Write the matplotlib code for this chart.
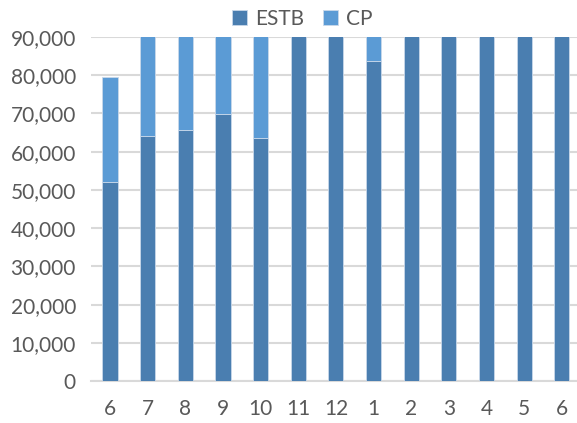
import numpy as np
import matplotlib.pyplot as plt

months = ["6", "7", "8", "9", "10", "11", "12", "1", "2", "3", "4", "5", "6"]
estb = [52100, 64000, 65600, 69900, 63600, 95000, 95000, 83600, 95000, 95000, 95000, 95000, 95000]
cp = [27400, 36000, 34400, 30100, 36400, 0, 0, 11400, 0, 0, 0, 0, 0]

c_estb = "#4A7EB0"
c_cp = "#5B9BD5"
txt = "#595959"

plt.rcParams['font.family'] = ['Lato', 'DejaVu Sans']

fig = plt.figure(figsize=(5.77, 4.23), dpi=100)
ax = fig.add_axes([0.158, 0.099, 0.842, 0.8135])

x = np.arange(len(months))
ax.bar(x, estb, width=0.4, color=c_estb, edgecolor="#C9D8EA", linewidth=0.6, label="ESTB", zorder=3)
ax.bar(x, cp, width=0.4, bottom=estb, color=c_cp, edgecolor="#C9D8EA", linewidth=0.6, label="CP", zorder=3)

ax.set_ylim(0, 90000)
ax.set_xlim(-0.5, 12.4)
ax.set_yticks(np.arange(0, 90001, 10000))
ax.set_yticklabels([f"{v:,}" for v in range(0, 90001, 10000)])
ax.set_xticks(x)
ax.set_xticklabels(months)
ax.yaxis.grid(True, color="#D9D9D9", linewidth=1.5, zorder=0)
ax.set_axisbelow(True)
for s in ["top", "right", "left"]:
    ax.spines[s].set_visible(False)
ax.spines["bottom"].set_color("#D9D9D9")
ax.spines["bottom"].set_linewidth(1.5)
ax.tick_params(axis="both", length=0, labelsize=15, colors=txt)
ax.tick_params(axis="x", pad=13)
ax.tick_params(axis="y", pad=11)

ax.legend(loc="lower center", bbox_to_anchor=(0.435, 1.0), ncol=2, frameon=False,
          fontsize=15, labelcolor=txt, handlelength=0.7, handleheight=0.7,
          handletextpad=0.4, columnspacing=0.9, borderaxespad=0.0)

fig.savefig("out.png", dpi=100)
